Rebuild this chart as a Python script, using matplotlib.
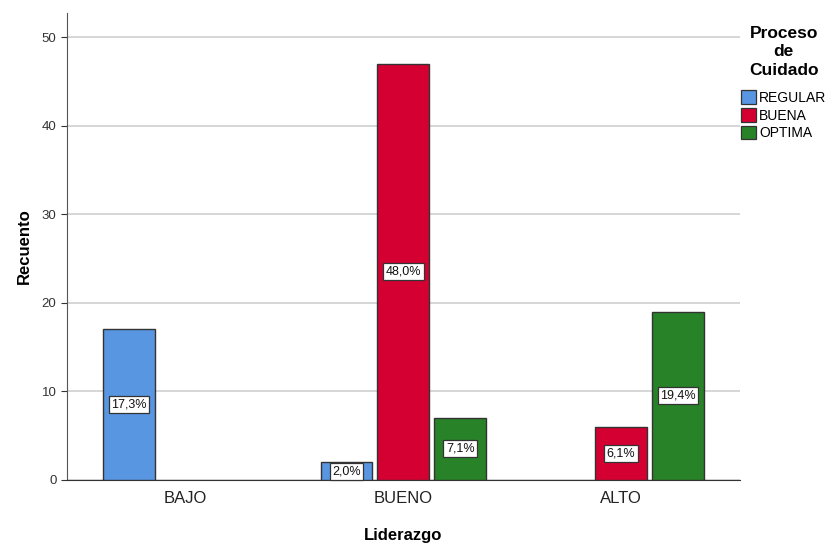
import matplotlib.pyplot as plt
import numpy as np

plt.rcParams['font.family'] = ['Liberation Sans', 'DejaVu Sans']

categories = ['BAJO', 'BUENO', 'ALTO']
series = ['REGULAR', 'BUENA', 'OPTIMA']
colors = ['#5896E2', '#D50032', '#288228']

# counts per category, None where the group has no bar
counts = {
    'REGULAR': [17, 2, None],
    'BUENA': [None, 47, 6],
    'OPTIMA': [None, 7, 19],
}
percents = {
    'REGULAR': ['17,3%', '2,0%', None],
    'BUENA': [None, '48,0%', '6,1%'],
    'OPTIMA': [None, '7,1%', '19,4%'],
}


def main():
    fig = plt.figure(figsize=(8.34, 5.45), dpi=100)
    ax = fig.add_axes([0.0803, 0.1193, 0.8067, 0.8567])

    x = np.arange(len(categories))
    width = 0.2385
    step = 0.2615

    for i, (name, color) in enumerate(zip(series, colors)):
        offset = (i - 1) * step
        for j, val in enumerate(counts[name]):
            if val is None:
                continue
            xpos = x[j] + offset
            ax.bar(xpos, val, width=width, color=color, edgecolor='#333333',
                   linewidth=1.0, zorder=3)
            ax.text(xpos, val / 2, percents[name][j], ha='center', va='center',
                    fontsize=9, color='#111111', zorder=5,
                    bbox=dict(boxstyle='square,pad=0.2', fc='white',
                              ec='#333333', lw=0.9))

    ax.set_xlim(-0.546, 2.546)
    ax.set_ylim(0, 52.7)
    ax.set_yticks([0, 10, 20, 30, 40, 50])
    ax.set_xticks(x)
    ax.set_xticklabels(categories, fontsize=12, color='#222222')
    ax.tick_params(axis='y', labelsize=9.5, colors='#333333', length=4, width=0.8)
    ax.tick_params(axis='x', length=0, pad=8)
    ax.yaxis.grid(True, color='#CFCFCF', linewidth=1.2, zorder=0)
    ax.set_axisbelow(True)

    for side in ['top', 'right']:
        ax.spines[side].set_visible(False)
    ax.spines['left'].set_color('#555555')
    ax.spines['bottom'].set_color('#333333')

    ax.set_ylabel('Recuento', fontsize=12, fontweight='bold', labelpad=7)
    ax.set_xlabel('Liderazgo', fontsize=12, fontweight='bold', labelpad=16)

    handles = [plt.Rectangle((0, 0), 1, 1, fc=c, ec='#333333', lw=0.9)
               for c in colors]
    leg = fig.legend(handles, series, loc='upper left',
                     bbox_to_anchor=(0.888, 0.953),
                     title='Proceso\nde\nCuidado', frameon=False,
                     fontsize=10, handlelength=1.1, handleheight=1.1,
                     handletextpad=0.25, labelspacing=0.25, borderaxespad=0,
                     borderpad=0)
    leg.get_title().set_fontweight('bold')
    leg.get_title().set_fontsize(12.5)
    leg.get_title().set_multialignment('center')
    leg.get_title().set_linespacing(1.3)
    leg._legend_box.sep = 9

    fig.savefig('out.png', dpi=100)


if __name__ == "__main__":
    main()
